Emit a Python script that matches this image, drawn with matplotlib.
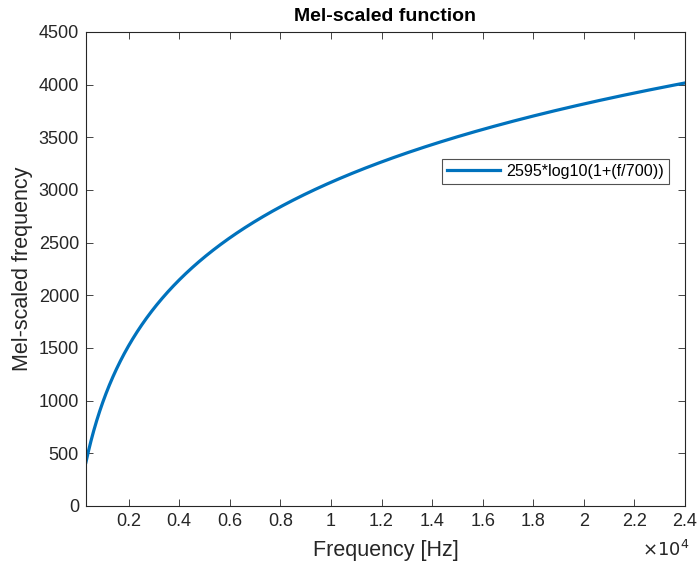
import numpy as np
import matplotlib
matplotlib.use("Agg")
import matplotlib.pyplot as plt

plt.rcParams['font.family'] = ['Liberation Sans', 'DejaVu Sans']

# Frequency range in Hz and the mel-scale mapping named in the legend
f_start, f_stop = 300, 24000
freq = np.linspace(f_start, f_stop, 2000)
mel = 2595 * np.log10(1 + freq / 700)

xticks = [2000, 4000, 6000, 8000, 10000, 12000, 14000, 16000, 18000, 20000, 22000, 24000]
xtick_labels = ['0.2', '0.4', '0.6', '0.8', '1', '1.2', '1.4', '1.6', '1.8', '2', '2.2', '2.4']
yticks = [0, 500, 1000, 1500, 2000, 2500, 3000, 3500, 4000, 4500]

fig = plt.figure(figsize=(6.97, 5.68), dpi=100)
ax = fig.add_axes([86/697, 1 - 506/568, (685 - 86)/697, (506 - 32)/568])

ax.plot(freq, mel, color='#0072BD', linewidth=2.3, label='2595*log10(1+(f/700))')

ax.set_xlim(f_start + 14, f_stop)
ax.set_ylim(0, 4500)
ax.set_xticks(xticks)
ax.set_xticklabels(xtick_labels)
ax.set_yticks(yticks)
ax.tick_params(direction='in', top=True, right=True, labelsize=13, colors='#262626',
               length=5, width=0.6, pad=5)
for s in ax.spines.values():
    s.set_color('#262626')
    s.set_linewidth(0.8)

ax.set_title('Mel-scaled function', fontsize=14, fontweight='bold', pad=8)
ax.set_xlabel('Frequency [Hz]', fontsize=15.5, color='#262626', labelpad=7)
ax.set_ylabel('Mel-scaled frequency', fontsize=15.5, color='#262626', labelpad=4)
ax.text(1.008, -0.072, r'$\times10^4$', transform=ax.transAxes, ha='right', va='top',
        fontsize=13, color='#262626')

leg = ax.legend(loc='upper right', bbox_to_anchor=(669/697, 1 - 159/568),
                bbox_transform=fig.transFigure, fontsize=11.6, frameon=True,
                fancybox=False, edgecolor='#262626', handlelength=3.3,
                borderpad=0.3, handletextpad=0.4, borderaxespad=0)
leg.get_frame().set_linewidth(0.8)

fig.savefig('out.png', dpi=100)
